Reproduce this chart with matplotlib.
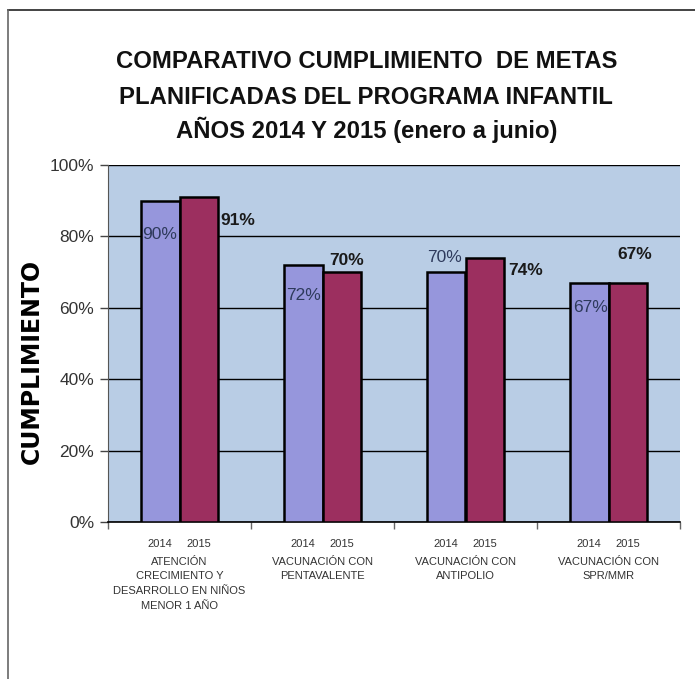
import matplotlib
matplotlib.use("Agg")
import matplotlib.pyplot as plt
import matplotlib.transforms as mtransforms
from matplotlib.lines import Line2D
import numpy as np

# ── data ──────────────────────────────────────────────────────────────────────
categorias = [
    "ATENCIÓN\nCRECIMIENTO Y\nDESARROLLO EN NIÑOS\nMENOR 1 AÑO",
    "VACUNACIÓN CON\nPENTAVALENTE",
    "VACUNACIÓN CON\nANTIPOLIO",
    "VACUNACIÓN CON\nSPR/MMR",
]
anios = ["2014", "2015"]
v2014 = [0.90, 0.72, 0.70, 0.67]
v2015 = [0.91, 0.70, 0.74, 0.67]
yticks = [0, 0.2, 0.4, 0.6, 0.8, 1.0]
titulo = [
    "COMPARATIVO CUMPLIMIENTO  DE METAS",
    "PLANIFICADAS DEL PROGRAMA INFANTIL",
    "AÑOS 2014 Y 2015 (enero a junio)",
]

FONT = ["Liberation Sans", "DejaVu Sans"]
C2014 = "#9696dc"
C2015 = "#9c2f5f"
BG = "#b9cde5"

fig = plt.figure(figsize=(6.95, 6.79), dpi=100, facecolor="white")
# page border (only top and left are visible in the crop)
fig.add_artist(Line2D([8 / 695, 1], [1 - 10 / 679] * 2, color="#222222", lw=1.2))
fig.add_artist(Line2D([8 / 695] * 2, [0, 1 - 10 / 679], color="#666666", lw=1.2))

ax = fig.add_axes([108 / 695, 1 - 522 / 679, 572 / 695, 357 / 679])
ax.set_facecolor(BG)

x = np.arange(len(categorias))
w = 0.272
b1 = ax.bar(x - w / 2, v2014, w, color=C2014, edgecolor="black", linewidth=1.8, zorder=3)
b2 = ax.bar(x + w / 2, v2015, w, color=C2015, edgecolor="black", linewidth=1.8, zorder=3)

ax.set_xlim(-0.5, len(categorias) - 0.5)
ax.set_ylim(0, 1)
ax.set_yticks(yticks)
ax.set_yticklabels([f"{int(round(t * 100))}%" for t in yticks],
                   family=FONT, fontsize=12.5, color="#333333")
ax.yaxis.grid(True, color="black", linewidth=1.0, zorder=1)
ax.tick_params(axis="y", length=6, width=1, color="#444444", pad=4)

# major ticks at category boundaries, minor ticks carry the year labels
ax.set_xticks(np.arange(len(categorias) + 1) - 0.5)
ax.set_xticklabels([])
ax.tick_params(axis="x", which="major", length=5, width=1, color="#666666")
ax.set_xticks(np.concatenate([x - w / 2, x + w / 2]), minor=True)
ax.set_xticklabels([anios[0]] * len(x) + [anios[1]] * len(x), minor=True,
                   family=FONT, fontsize=8, color="#333333")
ax.tick_params(axis="x", which="minor", length=0, pad=12)

for s in ["top", "right"]:
    ax.spines[s].set_visible(False)
ax.spines["left"].set_color("#555555")
ax.spines["bottom"].set_color("black")
ax.spines["bottom"].set_linewidth(1.2)

trans = mtransforms.blended_transform_factory(ax.transData, ax.transAxes)
for xi, cat in zip(x, categorias):
    ax.text(xi, -0.097, cat, transform=trans, ha="center", va="top",
            family=FONT, fontsize=8, color="#333333", linespacing=1.6)

# value labels (offsets in pixels from the top centre of each bar)
off14 = [(0, -34), (0, -31), (-2, 15), (1, -25)]
for rect, v, (dx, dy) in zip(b1, v2014, off14):
    ax.annotate(f"{int(round(v * 100))}%",
                (rect.get_x() + rect.get_width() / 2, v), xytext=(dx, dy),
                textcoords="offset pixels", ha="center", va="center",
                family=FONT, fontsize=12.5, color="#2e3a5c", zorder=5)
off15 = [(39, -23), (5, 12), (41, -13), (7, 28)]
for rect, v, (dx, dy) in zip(b2, v2015, off15):
    ax.annotate(f"{int(round(v * 100))}%",
                (rect.get_x() + rect.get_width() / 2, v), xytext=(dx, dy),
                textcoords="offset pixels", ha="center", va="center",
                family=FONT, fontsize=12.5, fontweight="bold", color="#1a1a1a", zorder=5)

ax.set_ylabel("CUMPLIMIENTO", family=["DejaVu Sans"],
              fontsize=17, fontweight="bold")
ax.yaxis.set_label_coords(-0.112, 0.45)

for yy, linea in zip([62, 97, 130], titulo):
    fig.text(0.527, 1 - yy / 679, linea, ha="center", va="center",
             family=FONT, fontsize=17.2, fontweight="bold", color="#111111")

fig.savefig("out.png", dpi=100, facecolor="white")
